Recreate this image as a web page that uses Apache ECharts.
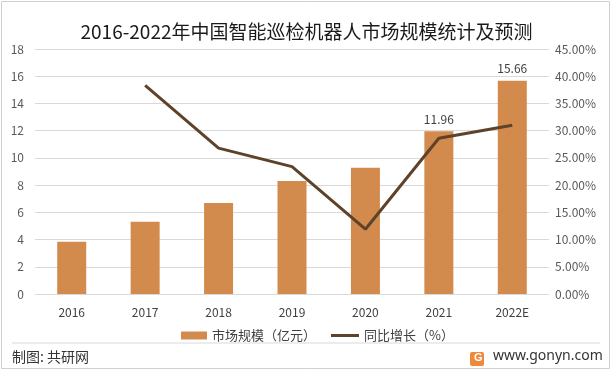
<!DOCTYPE html>
<html><head><meta charset="utf-8">
<script src="https://cdn.jsdelivr.net/npm/echarts@6/dist/echarts.min.js"></script>
<style>html,body{margin:0;padding:0;background:#fff}#c{width:613px;height:372px}</style>
</head><body><div id="c"></div>
<script>
const categories = ['2016','2017','2018','2019','2020','2021','2022E'];
const marketSize = [3.83, 5.30, 6.69, 8.30, 9.28, 11.96, 15.66];
const growth = [null, 38.3, 26.8, 23.4, 11.9, 28.6, 31.0];
const leftTicks = {min:0, max:18, interval:2};
const rightTicks = {min:0, max:45, interval:5};
const labeledIdx = [5, 6];

const font = '"Noto Sans CJK SC","Microsoft YaHei",sans-serif';
const chart = echarts.init(document.getElementById('c'), null, {renderer:'canvas'});
chart.setOption({
  animation:false,
  backgroundColor:'#fff',
  title:{text:'2016-2022年中国智能巡检机器人市场规模统计及预测', left:'center', top:17,
    textStyle:{fontFamily:font, fontSize:19, fontWeight:'normal', color:'#1a1a1a'}},
  grid:{left:35, right:64, top:49, bottom:78},
  legend:[
    {left:176, top:324, itemWidth:26, itemHeight:8, itemGap:5,
     textStyle:{fontFamily:font, fontSize:13, color:'#404040'},
     data:[{name:'市场规模（亿元）', icon:'rect'}]},
    {left:326, top:324, itemWidth:28, itemHeight:3, itemGap:5,
     textStyle:{fontFamily:font, fontSize:13, color:'#404040'},
     data:[{name:'同比增长（%）', icon:'rect'}]}
  ],
  xAxis:{type:'category', data:categories,
    axisLine:{show:false}, axisTick:{show:false},
    axisLabel:{color:'#404040', fontSize:12, fontFamily:font, margin:12}},
  yAxis:[
    {type:'value', min:leftTicks.min, max:leftTicks.max, interval:leftTicks.interval,
     axisLine:{show:false}, axisTick:{show:false},
     axisLabel:{color:'#595959', fontSize:12, fontFamily:font, margin:11},
     splitLine:{lineStyle:{color:'#d9d9d9', width:1}}},
    {type:'value', min:rightTicks.min, max:rightTicks.max, interval:rightTicks.interval,
     axisLine:{show:false}, axisTick:{show:false}, splitLine:{show:false},
     axisLabel:{color:'#595959', fontSize:12, fontFamily:font, margin:6,
       formatter:v=>v.toFixed(2)+'%'}}
  ],
  series:[
    {name:'市场规模（亿元）', type:'bar', barWidth:29, yAxisIndex:0,
     itemStyle:{color:'#d38b4d'},
     data:marketSize.map((v,i)=>({value:v, label:{show:labeledIdx.includes(i)}})),
     label:{position:'top', color:'#404040', fontSize:12, fontFamily:font, distance:6,
       formatter:p=>p.value.toFixed(2)}},
    {name:'同比增长（%）', type:'line', yAxisIndex:1, data:growth,
     symbol:'none', lineStyle:{color:'#5e4229', width:3}, itemStyle:{color:'#5e4229'}}
  ],
  graphic:[
    {type:'rect', shape:{x:1.5, y:1.5, width:608, height:367}, style:{fill:null, stroke:'#d0d0d0', lineWidth:1}, z:-1},
    {type:'line', shape:{x1:12, y1:343, x2:600, y2:343}, style:{stroke:'#d9d9d9', lineWidth:1}},
    {type:'text', left:12, top:350, style:{text:'制图: 共研网', font:'14px '+font, fill:'#333'}},
    {type:'rect', shape:{x:470, y:352, width:14, height:14, r:2}, style:{fill:'#f0883a'}},
    {type:'text', left:474, top:352, style:{text:'G', font:'bold 11px sans-serif', fill:'#fff'}},
    {type:'text', left:493, top:349, style:{text:'www.gonyn.com', font:'14px "Noto Sans",sans-serif', fill:'#333'}}
  ]
});
</script></body></html>
